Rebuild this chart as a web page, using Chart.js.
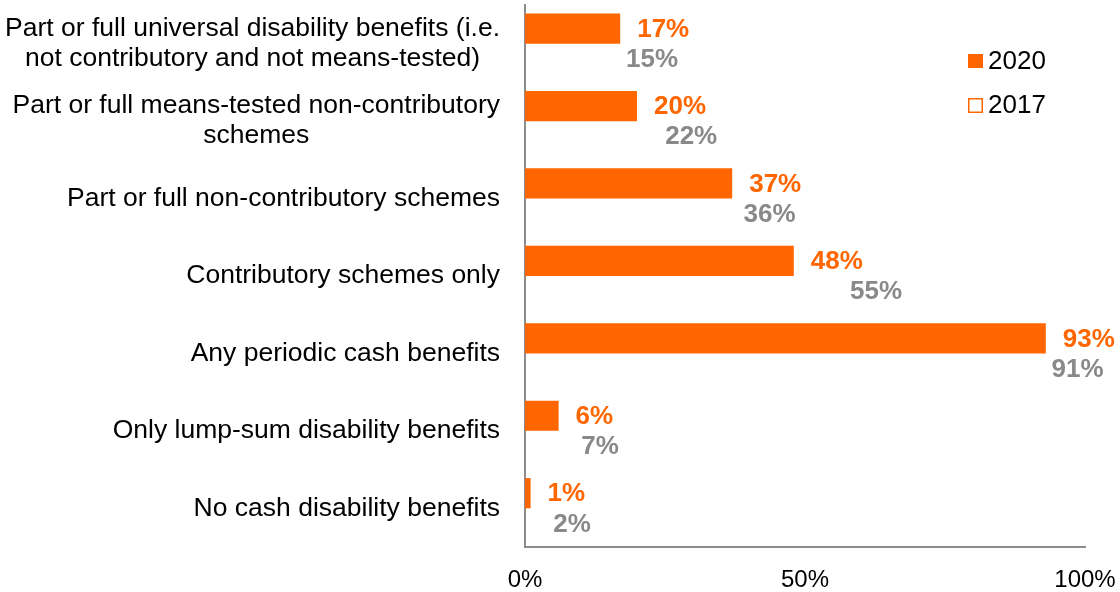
<!DOCTYPE html>
<html>
<head>
<meta charset="utf-8">
<script src="https://cdn.jsdelivr.net/npm/chart.js@4"></script>
<style>
html,body{margin:0;padding:0;background:#fff;}
#wrap{width:1120px;height:592px;}
</style>
</head>
<body>
<div id="wrap"><canvas id="c" width="1120" height="592"></canvas></div>
<script>
const categories = [
  ["Part or full universal disability benefits (i.e.", "not contributory and not means-tested)"],
  ["Part or full means-tested non-contributory", "schemes"],
  ["Part or full non-contributory schemes"],
  ["Contributory schemes only"],
  ["Any periodic cash benefits"],
  ["Only lump-sum disability benefits"],
  ["No cash disability benefits"]
];
const values2020 = [17, 20, 37, 48, 93, 6, 1];
const values2017 = [15, 22, 36, 55, 91, 7, 2];
const seriesNames = ["2020", "2017"];
const xTicks = [0, 50, 100];

const ORANGE = "#FF6600";
const GREY = "#898989";
const FONT = "'Liberation Sans', Arial, sans-serif";

const labelPlugin = {
  id: "customLabels",
  afterDraw(chart) {
    const ctx = chart.ctx;
    const ys = chart.scales.y;
    ctx.save();
    // category labels
    ctx.font = "26.5px " + FONT;
    ctx.fillStyle = "#000";
    ctx.textBaseline = "middle";
    ctx.textAlign = "center";
    const rightEdge = chart.chartArea.left - 25;
    const lh = 30;
    categories.forEach((lines, i) => {
      const cy = ys.getPixelForValue(i);
      const w = Math.max(...lines.map(l => ctx.measureText(l).width));
      const cx = rightEdge - w / 2;
      lines.forEach((l, j) => {
        const y = cy + (j - (lines.length - 1) / 2) * lh;
        ctx.fillText(l, cx, y);
      });
    });
    // data labels
    ctx.font = "bold 26px " + FONT;
    ctx.textAlign = "left";
    chart.data.datasets.forEach((ds, di) => {
      const meta = chart.getDatasetMeta(di);
      ctx.fillStyle = di === 0 ? ORANGE : GREY;
      meta.data.forEach((el, i) => {
        ctx.fillText(ds.data[i] + "%", el.x + 17, el.y + 1);
      });
    });
    // legend
    ctx.font = "26px " + FONT;
    ctx.fillStyle = ORANGE;
    ctx.fillRect(968, 54, 15, 14);
    ctx.fillStyle = "#fff";
    ctx.fillRect(968, 98, 14, 14);
    ctx.strokeStyle = ORANGE;
    ctx.lineWidth = 1.5;
    ctx.strokeRect(968.75, 98.75, 13.5, 13.5);
    ctx.fillStyle = "#000";
    ctx.fillText(seriesNames[0], 988, 62);
    ctx.fillText(seriesNames[1], 988, 106);
    ctx.restore();
  }
};

new Chart(document.getElementById("c"), {
  type: "bar",
  data: {
    labels: categories,
    datasets: [
      { label: seriesNames[0], data: values2020, backgroundColor: ORANGE, borderWidth: 0,
        barPercentage: 1.0, categoryPercentage: 0.78 },
      { label: seriesNames[1], data: values2017, backgroundColor: "rgba(255,255,255,0)", borderWidth: 0,
        barPercentage: 1.0, categoryPercentage: 0.78 }
    ]
  },
  options: {
    indexAxis: "y",
    responsive: false,
    animation: false,
    devicePixelRatio: 1,
    layout: { padding: { left: 0, right: 35, top: 5, bottom: 0 } },
    plugins: { legend: { display: false }, tooltip: { enabled: false } },
    scales: {
      y: {
        grid: { display: false, drawTicks: false },
        border: { display: true, color: "#8c8c8c", width: 2 },
        ticks: { display: false },
        afterFit(scale) { scale.width = 525; scale.paddingTop = 0; scale.paddingBottom = 0; }
      },
      x: {
        min: 0, max: 100,
        afterBuildTicks(scale) { scale.ticks = xTicks.map(v => ({ value: v })); },
        grid: { display: false, drawTicks: false },
        border: { display: true, color: "#8c8c8c", width: 2 },
        ticks: {
          color: "#000",
          font: { family: FONT, size: 24 },
          padding: 19,
          maxRotation: 0,
          callback: v => v + "%"
        },
        afterFit(scale) { scale.height = 45; scale.paddingLeft = 0; scale.paddingRight = 0; }
      }
    }
  },
  plugins: [labelPlugin]
});
</script>
</body>
</html>
